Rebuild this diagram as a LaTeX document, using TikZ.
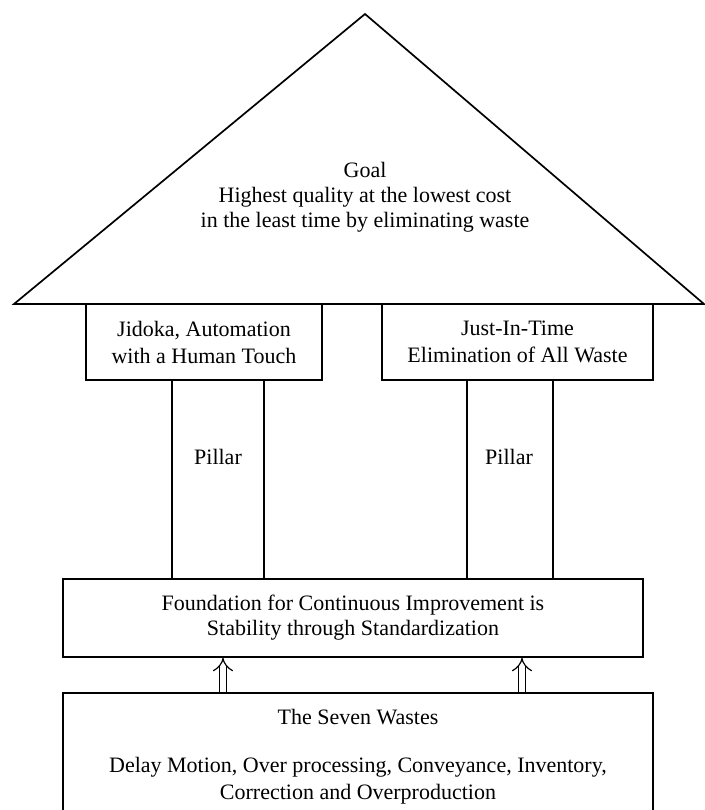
\documentclass[tikz,border=0pt]{standalone}
\usepackage{fontspec}
\setmainfont{Liberation Serif}
\usetikzlibrary{arrows.meta}
\begin{document}
\begin{tikzpicture}[x=0.5pt,y=-0.5pt,
  every node/.style={font=\fontsize{11}{12.5}\selectfont, align=center, inner sep=0pt},
  boxtext/.style={font=\fontsize{11}{13.5}\selectfont},
  box/.style={draw, line width=0.85pt, fill=none},
  pline/.style={line width=0.85pt},
  uparrow/.style={double, double distance=3pt, line width=0.6pt, -{Implies[length=3.5pt]}}
]
\useasboundingbox (0,0) rectangle (705,810);
\clip (0,0) rectangle (705,810);
% roof
\coordinate (rl) at (14,304);
\coordinate (rt) at (365,14);
\coordinate (rr) at (704,304);
\draw[pline, line join=miter] (rl) -- (rt) -- (rr) -- cycle;
\node (goal) at (365,197) {Goal\\Highest quality at the lowest cost\\in the least time by eliminating waste};
% pillar head boxes
\node[box, boxtext, minimum width=118pt, minimum height=38pt] (jid) at (204,342) {Jidoka, Automation\\with a Human Touch};
\node[box, boxtext, minimum width=135.5pt, minimum height=38pt] (jit) at (517.5,342) {Just-In-Time\\Elimination of All Waste};
% foundation
\node[box, minimum width=290pt, minimum height=39pt] (found) at (353,618) {Foundation for Continuous Improvement is\\Stability through Standardization};
% seven wastes
\node[box, minimum width=295pt, minimum height=75pt] (waste) at (358,768) {};
\node (wt) at (358,717) {The Seven Wastes};
\node[boxtext] (wd) at (358,781) {Delay Motion, Over processing, Conveyance, Inventory,\\Correction and Overproduction};
% pillars
\coordinate (p1) at (172,0);
\coordinate (p2) at (264,0);
\coordinate (p3) at (467,0);
\coordinate (p4) at (553,0);
\draw[pline] (jid.south -| p1) -- (found.north -| p1);
\draw[pline] (jid.south -| p2) -- (found.north -| p2);
\draw[pline] (jit.south -| p3) -- (found.north -| p3);
\draw[pline] (jit.south -| p4) -- (found.north -| p4);
\node (pl1) at (218,457) {Pillar};
\node (pl2) at (509,457) {Pillar};
% arrows
\coordinate (a1) at (223,0);
\coordinate (a2) at (522,0);
\draw[uparrow] (waste.north -| a1) -- (found.south -| a1);
\draw[uparrow] (waste.north -| a2) -- (found.south -| a2);
\end{tikzpicture}
\end{document}
